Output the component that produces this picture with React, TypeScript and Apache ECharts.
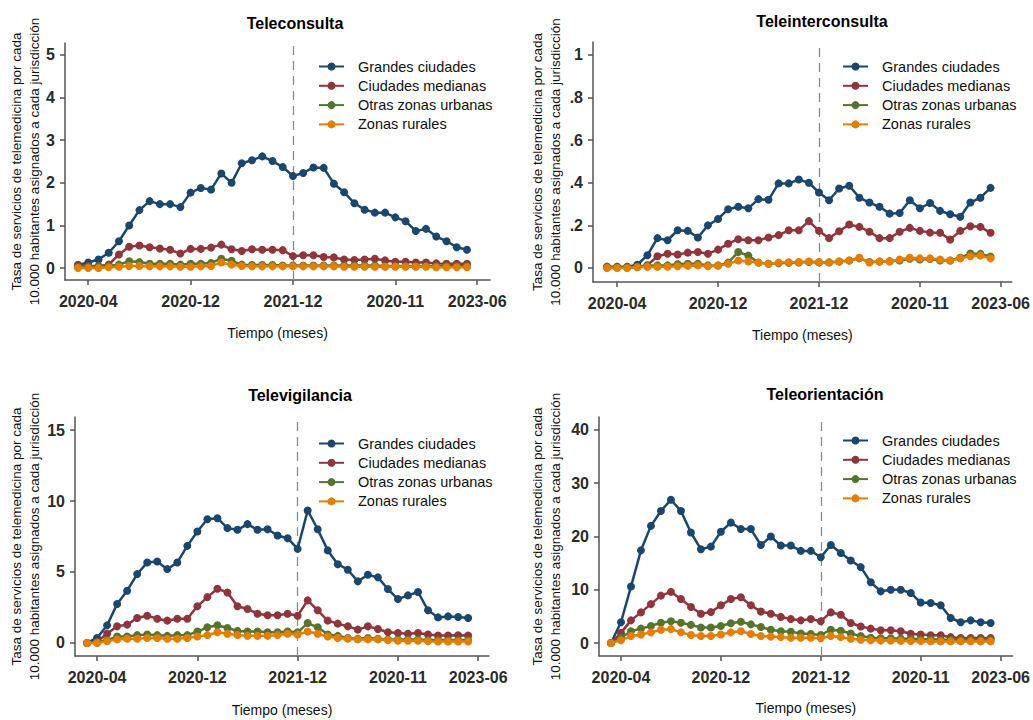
import React, { useEffect, useRef } from "react";
import * as echarts from "echarts";

// Series names and colours (Stata s2color palette)
const seriesNames = ["Grandes ciudades", "Ciudades medianas", "Otras zonas urbanas", "Zonas rurales"];
const seriesColors = ["#1a476f", "#90353b", "#55752f", "#e37e00"];

// x axis: monthly index 0..38, labelled ticks
const xTickPositions = [1, 11, 21, 31, 39];
const xTickLabels = ["2020-04", "2020-12", "2021-12", "2020-11", "2023-06"];
const cutoffIndex = 21;

// Teleconsulta
const teleconsultaGrandes = [0.07, 0.13, 0.2, 0.36, 0.63, 1.0, 1.36, 1.57, 1.5, 1.5, 1.43, 1.77, 1.88, 1.84, 2.22, 2.0, 2.46, 2.53, 2.62, 2.51, 2.37, 2.16, 2.23, 2.36, 2.35, 1.98, 1.78, 1.52, 1.37, 1.3, 1.3, 1.19, 1.1, 0.87, 0.92, 0.74, 0.63, 0.49, 0.43];
const teleconsultaMedianas = [0.07, 0.05, 0.05, 0.08, 0.32, 0.5, 0.53, 0.49, 0.46, 0.43, 0.34, 0.45, 0.45, 0.48, 0.55, 0.44, 0.4, 0.44, 0.43, 0.43, 0.42, 0.28, 0.3, 0.3, 0.26, 0.25, 0.2, 0.19, 0.2, 0.22, 0.18, 0.15, 0.15, 0.13, 0.13, 0.11, 0.1, 0.1, 0.1];
const teleconsultaOtras = [0.03, 0.03, 0.04, 0.05, 0.08, 0.16, 0.14, 0.1, 0.1, 0.1, 0.08, 0.1, 0.1, 0.12, 0.22, 0.17, 0.08, 0.07, 0.07, 0.07, 0.06, 0.06, 0.06, 0.06, 0.06, 0.06, 0.06, 0.06, 0.06, 0.06, 0.05, 0.05, 0.05, 0.05, 0.05, 0.05, 0.05, 0.05, 0.05];
const teleconsultaRurales = [0.0, 0.0, 0.0, 0.02, 0.03, 0.05, 0.05, 0.04, 0.04, 0.04, 0.03, 0.03, 0.04, 0.05, 0.13, 0.08, 0.05, 0.04, 0.04, 0.04, 0.04, 0.04, 0.04, 0.04, 0.04, 0.04, 0.03, 0.03, 0.03, 0.03, 0.03, 0.03, 0.03, 0.03, 0.03, 0.02, 0.02, 0.02, 0.02];

// Teleinterconsulta
const interGrandes = [0.005, 0.005, 0.005, 0.015, 0.06, 0.14, 0.13, 0.177, 0.174, 0.143, 0.2, 0.23, 0.276, 0.287, 0.28, 0.323, 0.32, 0.397, 0.397, 0.415, 0.4, 0.354, 0.318, 0.373, 0.386, 0.33, 0.307, 0.287, 0.255, 0.258, 0.318, 0.28, 0.305, 0.268, 0.252, 0.24, 0.307, 0.33, 0.376];
const interMedianas = [0.005, 0.005, 0.005, 0.005, 0.013, 0.055, 0.067, 0.063, 0.072, 0.075, 0.067, 0.086, 0.114, 0.135, 0.13, 0.13, 0.143, 0.154, 0.177, 0.177, 0.22, 0.174, 0.14, 0.172, 0.204, 0.193, 0.17, 0.14, 0.14, 0.17, 0.188, 0.174, 0.166, 0.165, 0.133, 0.174, 0.196, 0.193, 0.165];
const interOtras = [0.005, 0.003, 0.003, 0.005, 0.01, 0.012, 0.012, 0.018, 0.02, 0.02, 0.012, 0.012, 0.025, 0.075, 0.058, 0.025, 0.02, 0.022, 0.024, 0.025, 0.028, 0.026, 0.026, 0.03, 0.035, 0.045, 0.028, 0.03, 0.032, 0.035, 0.043, 0.04, 0.042, 0.035, 0.035, 0.048, 0.068, 0.066, 0.053];
const interRurales = [0.0, 0.0, 0.0, 0.003, 0.005, 0.005, 0.006, 0.008, 0.01, 0.012, 0.008, 0.01, 0.02, 0.035, 0.03, 0.025, 0.02, 0.025, 0.027, 0.028, 0.03, 0.028, 0.026, 0.03, 0.035, 0.048, 0.025, 0.03, 0.03, 0.04, 0.048, 0.045, 0.045, 0.04, 0.035, 0.045, 0.055, 0.058, 0.045];

// Televigilancia
const vigilGrandes = [0.0, 0.35, 1.24, 2.74, 3.68, 4.85, 5.67, 5.74, 5.2, 5.67, 6.84, 7.85, 8.72, 8.79, 8.09, 7.97, 8.37, 7.97, 8.01, 7.57, 7.38, 6.63, 9.33, 8.01, 6.52, 5.55, 5.16, 4.34, 4.8, 4.62, 3.8, 3.09, 3.35, 3.59, 2.3, 1.8, 1.87, 1.83, 1.76];
const vigilMedianas = [0.0, 0.1, 0.65, 1.17, 1.29, 1.76, 1.92, 1.71, 1.57, 1.71, 1.71, 2.58, 3.23, 3.82, 3.56, 2.58, 2.39, 2.06, 1.95, 1.95, 2.06, 1.92, 3.0, 2.3, 1.57, 1.36, 1.17, 0.94, 1.17, 0.98, 0.75, 0.7, 0.65, 0.7, 0.59, 0.52, 0.52, 0.54, 0.52];
const vigilOtras = [0.0, 0.05, 0.2, 0.45, 0.45, 0.55, 0.6, 0.55, 0.5, 0.55, 0.55, 0.8, 1.1, 1.25, 1.05, 0.85, 0.8, 0.8, 0.75, 0.75, 0.8, 0.75, 1.4, 1.1, 0.6, 0.5, 0.35, 0.3, 0.35, 0.3, 0.25, 0.25, 0.25, 0.25, 0.2, 0.2, 0.2, 0.2, 0.2];
const vigilRurales = [0.0, 0.0, 0.12, 0.25, 0.3, 0.3, 0.35, 0.35, 0.3, 0.3, 0.35, 0.45, 0.55, 0.75, 0.65, 0.55, 0.5, 0.5, 0.5, 0.55, 0.65, 0.6, 0.8, 0.65, 0.45, 0.35, 0.3, 0.25, 0.25, 0.25, 0.2, 0.15, 0.15, 0.15, 0.12, 0.1, 0.1, 0.1, 0.1];

// Teleorientación
const orientGrandes = [0.0, 3.9, 10.6, 17.4, 22.0, 24.8, 26.9, 24.8, 20.75, 17.6, 18.1, 20.9, 22.6, 21.4, 21.4, 18.4, 20.0, 18.3, 18.3, 17.3, 17.3, 16.1, 18.4, 16.9, 15.5, 14.25, 11.4, 9.7, 10.0, 10.0, 9.4, 7.6, 7.5, 7.1, 4.7, 3.9, 4.25, 3.9, 3.75];
const orientMedianas = [0.0, 1.9, 4.25, 5.75, 7.3, 8.9, 9.6, 8.25, 6.75, 5.5, 5.8, 7.1, 8.25, 8.6, 7.1, 5.9, 5.5, 4.9, 4.5, 4.25, 4.5, 4.1, 5.75, 5.3, 3.75, 3.1, 2.7, 2.4, 2.4, 2.2, 1.75, 1.6, 1.45, 1.45, 1.1, 0.95, 0.95, 0.95, 0.95];
const orientOtras = [0.0, 1.0, 2.2, 2.7, 3.2, 3.8, 4.1, 3.8, 3.4, 2.9, 2.9, 3.2, 3.7, 4.0, 3.5, 3.0, 2.5, 2.2, 2.1, 1.8, 1.7, 1.5, 2.5, 2.3, 1.8, 1.3, 1.0, 0.9, 0.9, 0.8, 0.8, 0.7, 0.7, 0.6, 0.6, 0.6, 0.6, 0.6, 0.6];
const orientRurales = [0.0, 0.5, 1.3, 1.6, 2.0, 2.5, 2.6, 2.0, 1.5, 1.3, 1.3, 1.6, 2.0, 2.2, 1.7, 1.3, 1.2, 1.1, 1.0, 1.0, 1.0, 0.9, 1.3, 1.1, 0.8, 0.6, 0.5, 0.45, 0.45, 0.4, 0.35, 0.35, 0.3, 0.3, 0.3, 0.3, 0.3, 0.3, 0.3];

// y axis ticks per panel
const yTicksConsulta = [0, 1, 2, 3, 4, 5];
const yLabelsConsulta = ["0", "1", "2", "3", "4", "5"];
const yTicksInter = [0, 0.2, 0.4, 0.6, 0.8, 1];
const yLabelsInter = ["0", ".2", ".4", ".6", ".8", "1"];
const yTicksVigil = [0, 5, 10, 15];
const yLabelsVigil = ["0", "5", "10", "15"];
const yTicksOrient = [0, 10, 20, 30, 40];
const yLabelsOrient = ["0", "10", "20", "30", "40"];

const yAxisTitle = "Tasa de servicios de telemedicina por cada\n10.000 habitantes asignados a cada jurisdicción";
const xAxisTitle = "Tiempo (meses)";
const FONT = "'Liberation Sans', Arial, Helvetica, sans-serif";

interface Panel {
  title: string;
  series: number[][];
  yTicks: number[];
  yLabels: string[];
  grid: { left: number; top: number; width: number; height: number };
  xMin: number;
  xMax: number;
  yMin: number;
  yMax: number;
  titleX: number;
  titleTop: number;
  yNameGap: number;
  xNameGap: number;
  legendLeft: number;
  legendTop: number;
}

const panels: Panel[] = [
  {
    title: "Teleconsulta",
    series: [teleconsultaGrandes, teleconsultaMedianas, teleconsultaOtras, teleconsultaRurales],
    yTicks: yTicksConsulta,
    yLabels: yLabelsConsulta,
    grid: { left: 65, top: 43, width: 425, height: 237 },
    xMin: -1.27, xMax: 40.25, yMin: -0.28, yMax: 5.28,
    titleX: 290, titleTop: 10, yNameGap: 22, xNameGap: 46,
    legendLeft: 313, legendTop: 54,
  },
  {
    title: "Teleinterconsulta",
    series: [interGrandes, interMedianas, interOtras, interRurales],
    yTicks: yTicksInter,
    yLabels: yLabelsInter,
    grid: { left: 593, top: 42, width: 419, height: 240 },
    xMin: -1.39, xMax: 40.1, yMin: -0.066, yMax: 1.061,
    titleX: 817, titleTop: 8, yNameGap: 29, xNameGap: 46,
    legendLeft: 837, legendTop: 54,
  },
  {
    title: "Televigilancia",
    series: [vigilGrandes, vigilMedianas, vigilOtras, vigilRurales],
    yTicks: yTicksVigil,
    yLabels: yLabelsVigil,
    grid: { left: 75, top: 417, width: 414, height: 239 },
    xMin: -1.2, xMax: 40.08, yMin: -0.92, yMax: 15.92,
    titleX: 295, titleTop: 382, yNameGap: 32, xNameGap: 47,
    legendLeft: 313, legendTop: 431,
  },
  {
    title: "Teleorientación",
    series: [orientGrandes, orientMedianas, orientOtras, orientRurales],
    yTicks: yTicksOrient,
    yLabels: yLabelsOrient,
    grid: { left: 599, top: 417, width: 414, height: 239 },
    xMin: -1.2, xMax: 40.2, yMin: -2.44, yMax: 42.44,
    titleX: 820, titleTop: 381, yNameGap: 35, xNameGap: 45,
    legendLeft: 837, legendTop: 428,
  },
];

const axisLineStyle = { color: "#555", width: 1.5 };

function buildOption() {
  const title = panels.map((p) => ({
    text: p.title,
    left: p.titleX,
    top: p.titleTop,
    textAlign: "center",
    textStyle: { fontFamily: FONT, fontSize: 16, fontWeight: "bold", color: "#000" },
  }));

  const grid = panels.map((p) => ({ ...p.grid, containLabel: false }));

  const tickLabelStyle = { fontFamily: FONT, fontSize: 16, fontWeight: "bold", color: "#2a2a2a" };

  const xAxis = panels.map((p, i) => ({
    type: "value",
    gridIndex: i,
    min: p.xMin,
    max: p.xMax,
    axisLine: { show: true, onZero: false, lineStyle: axisLineStyle },
    axisTick: { show: true, length: 5, customValues: xTickPositions, lineStyle: axisLineStyle },
    axisLabel: {
      customValues: xTickPositions,
      formatter: (v: number) => xTickLabels[xTickPositions.indexOf(Math.round(v))] ?? "",
      margin: 13,
      ...tickLabelStyle,
    },
    splitLine: { show: false },
    name: xAxisTitle,
    nameLocation: "middle",
    nameGap: p.xNameGap,
    nameMoveOverlap: false,
    nameTextStyle: { fontFamily: FONT, fontSize: 14, color: "#111" },
  }));

  const yAxis = panels.map((p, i) => ({
    type: "value",
    gridIndex: i,
    min: p.yMin,
    max: p.yMax,
    axisLine: { show: true, onZero: false, lineStyle: axisLineStyle },
    axisTick: { show: true, length: 5, customValues: p.yTicks, lineStyle: axisLineStyle },
    axisLabel: {
      customValues: p.yTicks,
      formatter: (v: number) => {
        const k = p.yTicks.findIndex((t) => Math.abs(t - v) < 1e-9);
        return k >= 0 ? p.yLabels[k] : "";
      },
      margin: 10,
      ...tickLabelStyle,
    },
    splitLine: { show: false },
    name: yAxisTitle,
    nameLocation: "middle",
    nameRotate: 90,
    nameGap: p.yNameGap,
    nameMoveOverlap: false,
    nameTextStyle: { fontFamily: FONT, fontSize: 13.5, lineHeight: 18, color: "#111", align: "center" },
  }));

  const series: any[] = [];
  panels.forEach((p, gi) => {
    p.series.forEach((values, si) => {
      series.push({
        type: "line",
        name: seriesNames[si],
        xAxisIndex: gi,
        yAxisIndex: gi,
        data: values.map((v, idx) => [idx, v]),
        symbol: "circle",
        symbolSize: 8,
        showSymbol: true,
        color: seriesColors[si],
        lineStyle: { width: 2.5, color: seriesColors[si] },
        itemStyle: { color: seriesColors[si] },
        z: 2 + si,
        markLine:
          si === 0
            ? {
                silent: true,
                symbol: "none",
                label: { show: false },
                lineStyle: { color: "#8a8a8a", type: [9, 6], width: 1.3 },
                data: [{ xAxis: cutoffIndex }],
                z: 1,
              }
            : undefined,
      });
    });
  });

  const legend = panels.map((p) => ({
    orient: "vertical",
    left: p.legendLeft,
    top: p.legendTop,
    data: seriesNames,
    itemWidth: 25,
    itemHeight: 10,
    itemGap: 4.3,
    selectedMode: false,
    textStyle: { fontFamily: FONT, fontSize: 14.5, lineHeight: 15, color: "#111", padding: [0, 0, 0, 9] },
  }));

  return {
    animation: false,
    backgroundColor: "#fff",
    title,
    grid,
    xAxis,
    yAxis,
    legend,
    series,
  };
}

export default function App() {
  const ref = useRef<HTMLDivElement>(null);
  useEffect(() => {
    if (!ref.current) return;
    const chart = echarts.init(ref.current, undefined, { renderer: "svg" });
    chart.setOption(buildOption() as any);
    return () => chart.dispose();
  }, []);
  return (
    <div
      ref={ref}
      style={{ position: "fixed", left: 0, top: 0, width: 1033, height: 720, background: "#fff" }}
    />
  );
}
